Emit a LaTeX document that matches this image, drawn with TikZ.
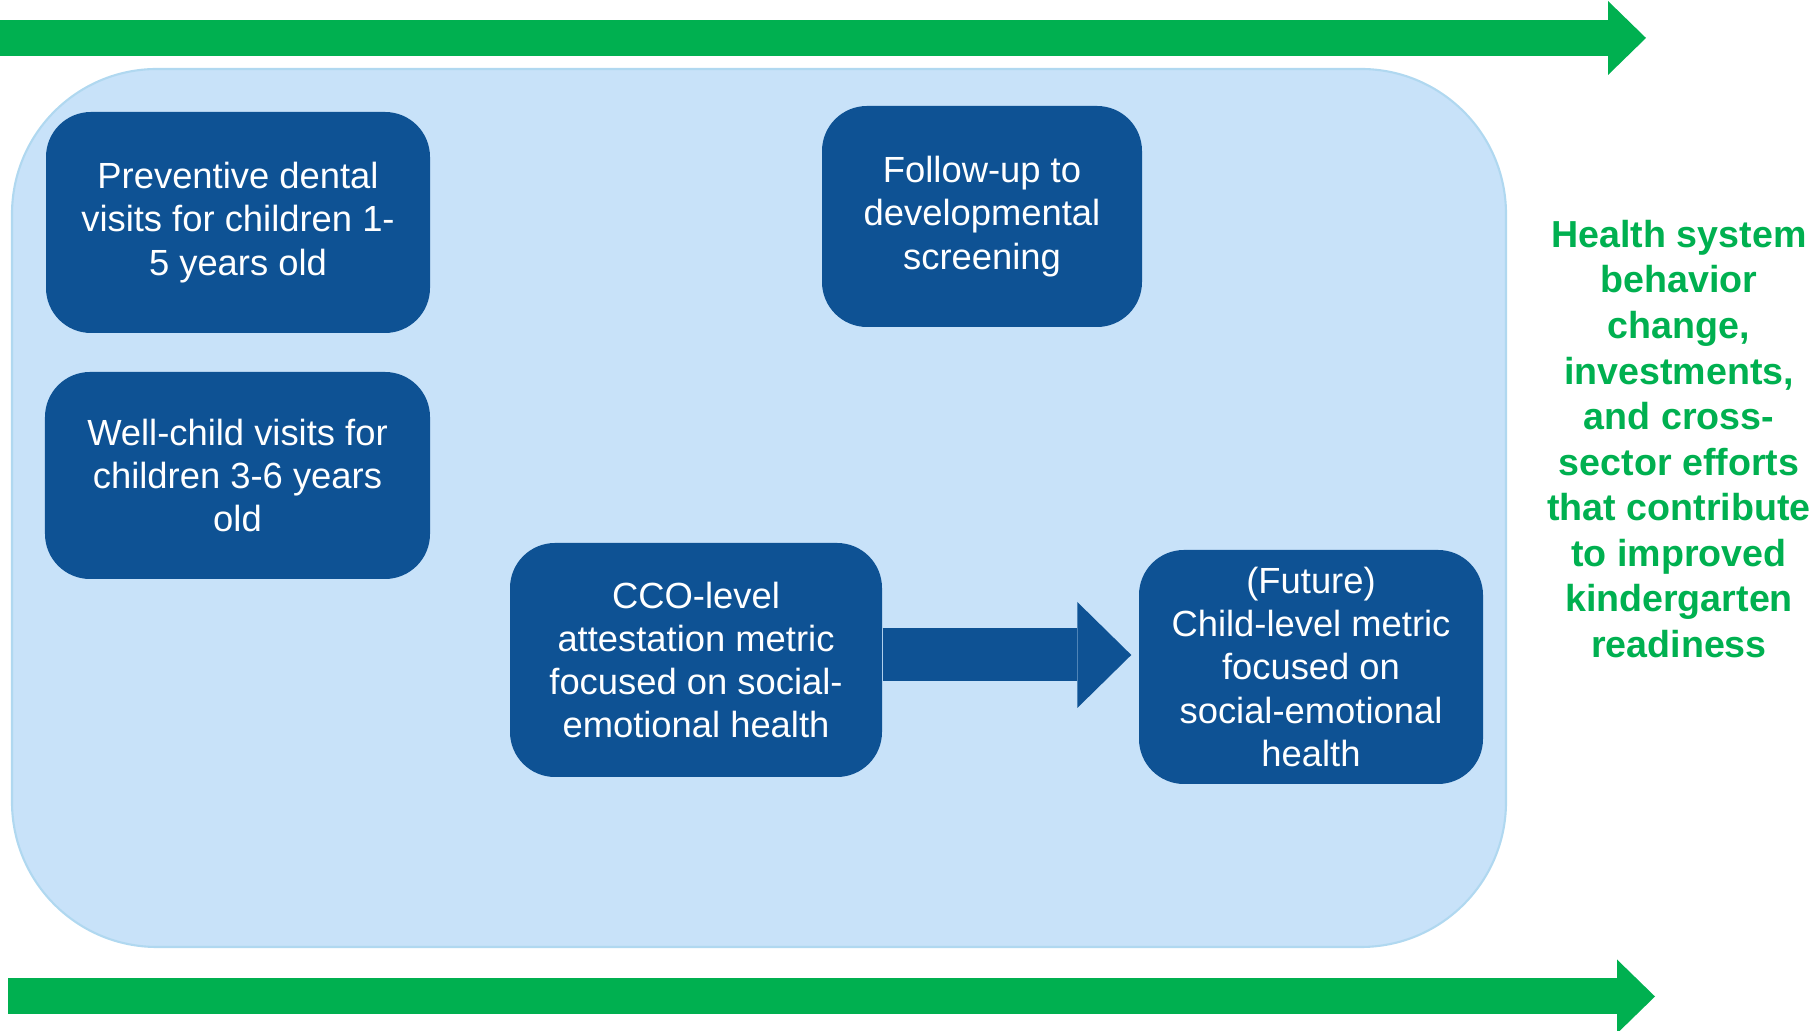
\documentclass[tikz,border=0pt]{standalone}
\usepackage{fontspec}
\setmainfont{Liberation Sans}
\usepackage{tikz}
\usetikzlibrary{arrows.meta,calc}
\definecolor{metricblue}{RGB}{14,82,148}
\definecolor{panelblue}{RGB}{200,226,249}
\definecolor{paneledge}{RGB}{176,216,240}
\definecolor{flowgreen}{RGB}{0,176,80}
\tikzset{
         metric/.style=
          {
           fill=metricblue,
           rounded corners=0.45cm,
           text=white,
           align=center,
           font=\fontsize{10.35}{12.3}\selectfont,
           inner sep=0pt
          },
         panel/.style={fill=panelblue,draw=paneledge,line width=0.6pt,rounded corners=1.45cm},
         flow/.style={flowgreen,line width=0.36cm,-{Triangle[length=0.38cm,width=0.74cm,line width=0pt]}}
        }

\begin{document}
\begin{tikzpicture}
\useasboundingbox (0,0) rectangle (18.12,10.31);

%background panel
\draw[panel] (0.12,0.84) rectangle (15.06,9.62);

%green arrows
\coordinate (topstart) at (0,9.93);
\coordinate (topend) at (16.46,9.93);
\coordinate (botstart) at (0.08,0.345);
\coordinate (botend) at (16.55,0.345);
\draw[flow] (topstart)--(topend);
\draw[flow] (botstart)--(botend);

%metric boxes
\node[metric,minimum width=3.84cm,minimum height=2.21cm] (dental) at (2.38,8.085)
{Preventive dental\\visits for children 1-\\5 years old};
\node[metric,minimum width=3.85cm,minimum height=2.07cm] (wellchild) at (2.375,5.555)
{Well-child visits for\\children 3-6 years\\old};
\node[metric,minimum width=3.2cm,minimum height=2.21cm] (followup) at (9.82,8.145)
{Follow-up to\\developmental\\screening};
\node[metric,minimum width=3.72cm,minimum height=2.34cm] (cco) at (6.96,3.71)
{CCO-level\\attestation metric\\focused on social-\\emotional health};
\node[metric,minimum width=3.44cm,minimum height=2.34cm] (future) at (13.11,3.64)
{(Future)\\Child-level metric\\focused on\\social-emotional\\health};

%block arrow
\draw[metricblue,line width=0.53cm,-{Triangle[length=0.54cm,width=1.06cm,line width=0pt]},shorten >=0.07cm]
([yshift=0.05cm]cco.east)--([yshift=0.05cm]cco.east -| future.west);

%outcome text
\node[text=flowgreen,align=center,font=\fontsize{10.7}{12.97}\selectfont\bfseries] (outcome) at (16.79,5.92)
{Health system\\behavior\\change,\\investments,\\and cross-\\sector efforts\\that contribute\\to improved\\kindergarten\\readiness};
\end{tikzpicture}
\end{document}
